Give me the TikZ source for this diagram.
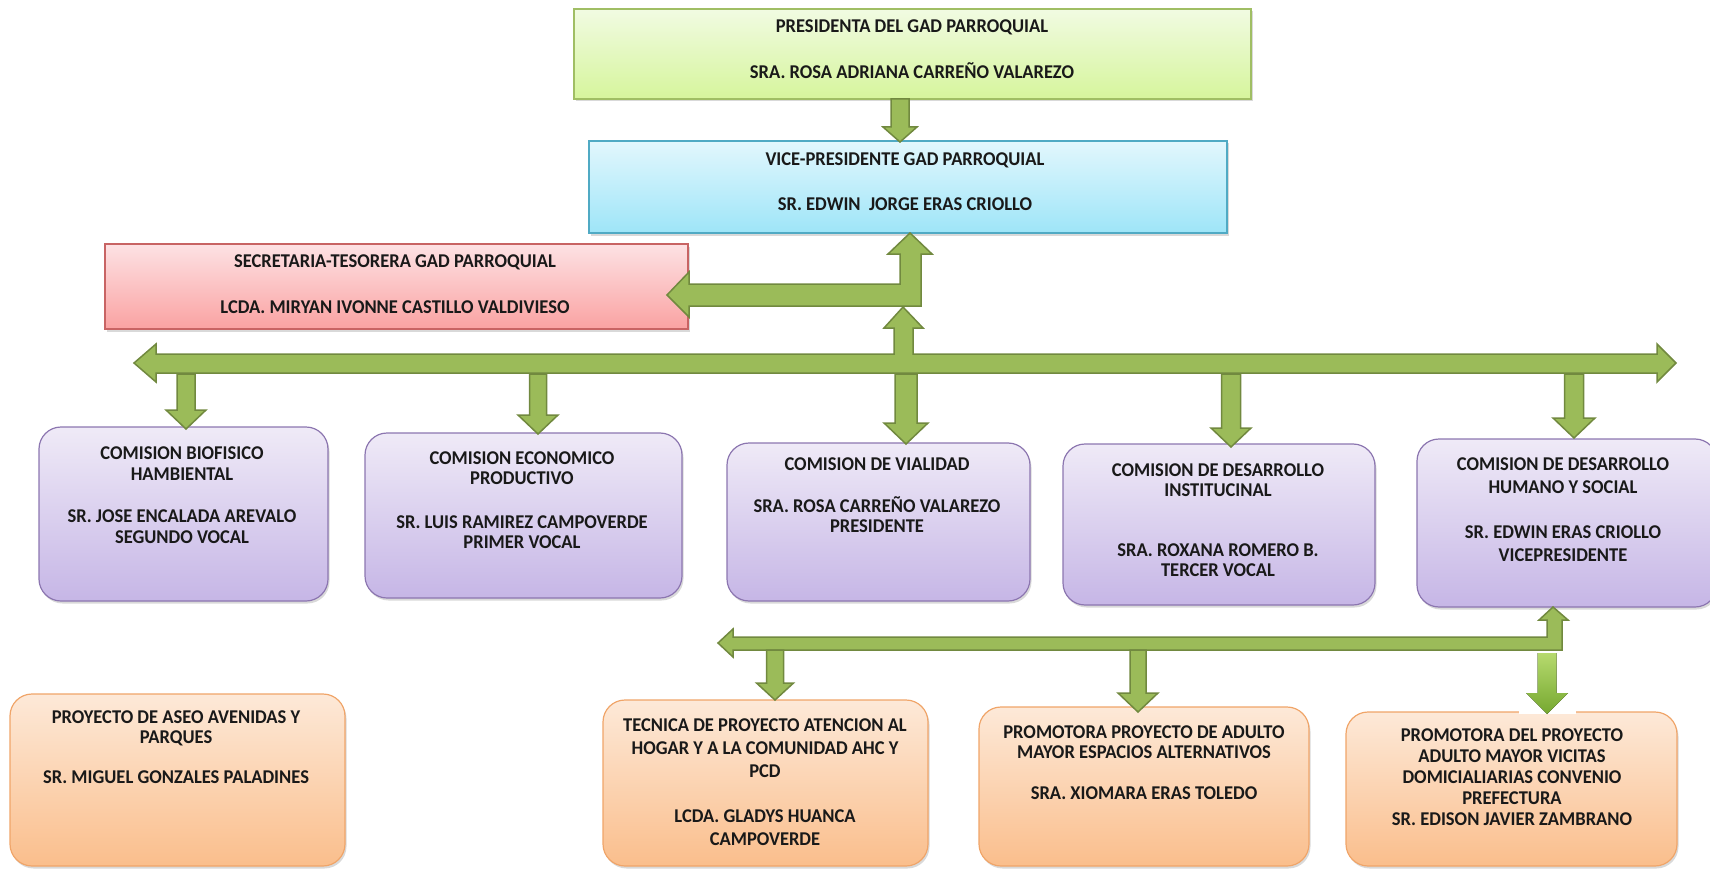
\documentclass[tikz,border=0pt]{standalone}
\usepackage{fontspec}
\setmainfont{Carlito}[FakeStretch=0.95]
\usetikzlibrary{shadows}
\definecolor{arrfill}{RGB}{155,187,89}
\definecolor{arrline}{RGB}{113,137,63}
\definecolor{gtop}{RGB}{241,251,226}
\definecolor{gbot}{RGB}{214,245,156}
\definecolor{gline}{RGB}{160,190,100}
\definecolor{ctop}{RGB}{226,247,253}
\definecolor{cbot}{RGB}{158,229,248}
\definecolor{cline}{RGB}{80,170,196}
\definecolor{rtop}{RGB}{253,226,228}
\definecolor{rbot}{RGB}{250,162,162}
\definecolor{rline}{RGB}{200,100,100}
\definecolor{ptop}{RGB}{239,234,247}
\definecolor{pbot}{RGB}{198,182,230}
\definecolor{pline}{RGB}{140,118,176}
\definecolor{otop}{RGB}{253,233,216}
\definecolor{obot}{RGB}{250,190,140}
\definecolor{oline}{RGB}{240,165,105}
\definecolor{dtop}{RGB}{182,218,110}
\definecolor{dbot}{RGB}{118,168,48}
\tikzset{
  boxbase/.style={draw, line width=1.2pt, inner sep=0pt,
    drop shadow={shadow xshift=1.5pt, shadow yshift=-2.5pt, opacity=0.3}},
  greenbox/.style={boxbase, draw=gline, top color=gtop, bottom color=gbot},
  cyanbox/.style={boxbase, draw=cline, top color=ctop, bottom color=cbot},
  redbox/.style={boxbase, draw=rline, top color=rtop, bottom color=rbot},
  purplebox/.style={boxbase, rounded corners=22pt, draw=pline, top color=ptop, bottom color=pbot},
  orangebox/.style={boxbase, rounded corners=22pt, draw=oline, top color=otop, bottom color=obot},
  txt/.style={align=center, inner sep=0pt, anchor=north, text=black!90},
  blockarrow/.style={fill=arrfill, draw=arrline, line width=1.5pt, line join=miter},
  shadedarrow/.style={top color=dtop, bottom color=dbot, draw=none}
}
\newcommand\fs[1]{\bfseries\fontsize{19.5}{#1}\selectfont}
\newcommand\blockdown[6]{%
  \filldraw[blockarrow] (#1-#5,#2) -- (#1+#5,#2) -- (#1+#5,#3) -- (#1+#6,#3)
    -- (#1,#4) -- (#1-#6,#3) -- (#1-#5,#3) -- cycle;}
\begin{document}
\begin{tikzpicture}[x=1pt,y=-1pt]
\useasboundingbox (0,0) rectangle (1710,869);

% ---- top boxes
\node[greenbox, minimum width=677pt, minimum height=90pt] (pres) at (912.5,54) {};
\node[txt, font=\fs{23}] (tpres) at (912,20)
  {PRESIDENTA DEL GAD PARROQUIAL\\[23pt]SRA. ROSA ADRIANA CARREÑO VALAREZO};

\node[cyanbox, minimum width=638pt, minimum height=92pt] (vice) at (908,187) {};
\node[txt, font=\fs{22.5}] (tvice) at (905,153)
  {VICE-PRESIDENTE GAD PARROQUIAL\\[22.5pt]SR. EDWIN \ JORGE ERAS CRIOLLO};

\node[redbox, minimum width=583pt, minimum height=85pt] (sec) at (396.5,286.5) {};
\node[txt, font=\fs{23}] (tsec) at (395,255)
  {SECRETARIA-TESORERA GAD PARROQUIAL\\[23pt]LCDA. MIRYAN IVONNE CASTILLO VALDIVIESO};

% ---- comisiones
\node[purplebox, minimum width=289pt, minimum height=174pt] (c1) at (183.5,514) {};
\node[txt, font=\fs{21}] (tc1) at (182,447)
  {COMISION BIOFISICO\\HAMBIENTAL\\[21pt]SR. JOSE ENCALADA AREVALO\\SEGUNDO VOCAL};

\node[purplebox, minimum width=317pt, minimum height=165pt] (c2) at (523.5,515.5) {};
\node[txt, font=\fs{20}] (tc2) at (522,452)
  {COMISION ECONOMICO\\PRODUCTIVO\\[24pt]SR. LUIS RAMIREZ CAMPOVERDE\\PRIMER VOCAL};

\node[purplebox, minimum width=303pt, minimum height=158pt] (c3) at (878.5,522) {};
\node[txt, font=\fs{20}] (tc3) at (877,458)
  {COMISION DE VIALIDAD\\[22pt]SRA. ROSA CARREÑO VALAREZO\\PRESIDENTE};

\node[purplebox, minimum width=312pt, minimum height=161pt] (c4) at (1219,524.5) {};
\node[txt, font=\fs{20}] (tc4) at (1218,464)
  {COMISION DE DESARROLLO\\INSTITUCINAL\\[40pt]SRA. ROXANA ROMERO B.\\TERCER VOCAL};

\node[purplebox, minimum width=300pt, minimum height=168pt] (c5) at (1567,523) {};
\node[txt, font=\fs{22.5}] (tc5) at (1563,458)
  {COMISION DE DESARROLLO\\HUMANO Y SOCIAL\\[23pt]SR. EDWIN ERAS CRIOLLO\\VICEPRESIDENTE};

% ---- proyectos
\node[orangebox, minimum width=335pt, minimum height=172pt] (p1) at (177.5,780) {};
\node[txt, font=\fs{20}] (tp1) at (176,711)
  {PROYECTO DE ASEO AVENIDAS Y\\PARQUES\\[20pt]SR. MIGUEL GONZALES PALADINES};

\node[orangebox, minimum width=325pt, minimum height=166pt] (p2) at (765.5,783) {};
\node[txt, font=\fs{23}] (tp2) at (765,719)
  {TECNICA DE PROYECTO ATENCION AL\\HOGAR Y A LA COMUNIDAD AHC Y\\PCD\\[22pt]LCDA. GLADYS HUANCA\\CAMPOVERDE};

\node[orangebox, minimum width=330pt, minimum height=159pt] (p3) at (1144,786.5) {};
\node[txt, font=\fs{20}] (tp3) at (1144,726)
  {PROMOTORA PROYECTO DE ADULTO\\MAYOR ESPACIOS ALTERNATIVOS\\[21pt]SRA. XIOMARA ERAS TOLEDO};

\node[orangebox, minimum width=331pt, minimum height=154pt] (p4) at (1511.5,789) {};
\node[txt, font=\fs{21}] (tp4) at (1512,729)
  {PROMOTORA DEL PROYECTO\\ADULTO MAYOR VICITAS\\DOMICIALIARIAS CONVENIO\\PREFECTURA\\SR. EDISON JAVIER ZAMBRANO};

% ---- arrows
% presidenta -> vice
\blockdown{900}{99}{127}{142}{9}{17}
% elbow to vice and secretaria
\filldraw[blockarrow] (910,233) -- (932,254) -- (921,254) -- (921,306) -- (689,306)
  -- (689,317) -- (667,295) -- (689,272) -- (689,284) -- (900,284) -- (900,254)
  -- (888,254) -- cycle;
% main bus with upward stem
\filldraw[blockarrow] (134,363) -- (156,344) -- (156,354) -- (894,354) -- (894,328)
  -- (884,328) -- (903,307) -- (923,328) -- (913,328) -- (913,354) -- (1657,354)
  -- (1657,344) -- (1676,363) -- (1657,382) -- (1657,373) -- (156,373) -- (156,382) -- cycle;
% down to comisiones
\blockdown{186}{374}{410}{429}{9}{20}
\blockdown{538}{374}{415}{434}{8.5}{20}
\blockdown{906}{374}{423}{444}{11}{22}
\blockdown{1231}{374}{428}{447}{9.5}{20}
\blockdown{1574}{374}{418}{438}{9.5}{21}
% lower bus from desarrollo humano
\filldraw[blockarrow] (1553,607) -- (1568,620) -- (1562,620) -- (1562,650) -- (733,650)
  -- (733,657) -- (718,643) -- (733,629) -- (733,637) -- (1547,637) -- (1547,620)
  -- (1539,620) -- cycle;
\blockdown{775}{650}{683}{700}{8.5}{18.5}
\blockdown{1138}{650}{693}{712}{8}{20}
% shaded arrow to last promotora
\fill[white] (1519,652) rectangle (1576,714);
\fill[shadedarrow] (1537.5,653) -- (1556.5,653) -- (1556.5,693) -- (1568,693)
  -- (1547,714) -- (1526,693) -- (1537.5,693) -- cycle;
\end{tikzpicture}
\end{document}
